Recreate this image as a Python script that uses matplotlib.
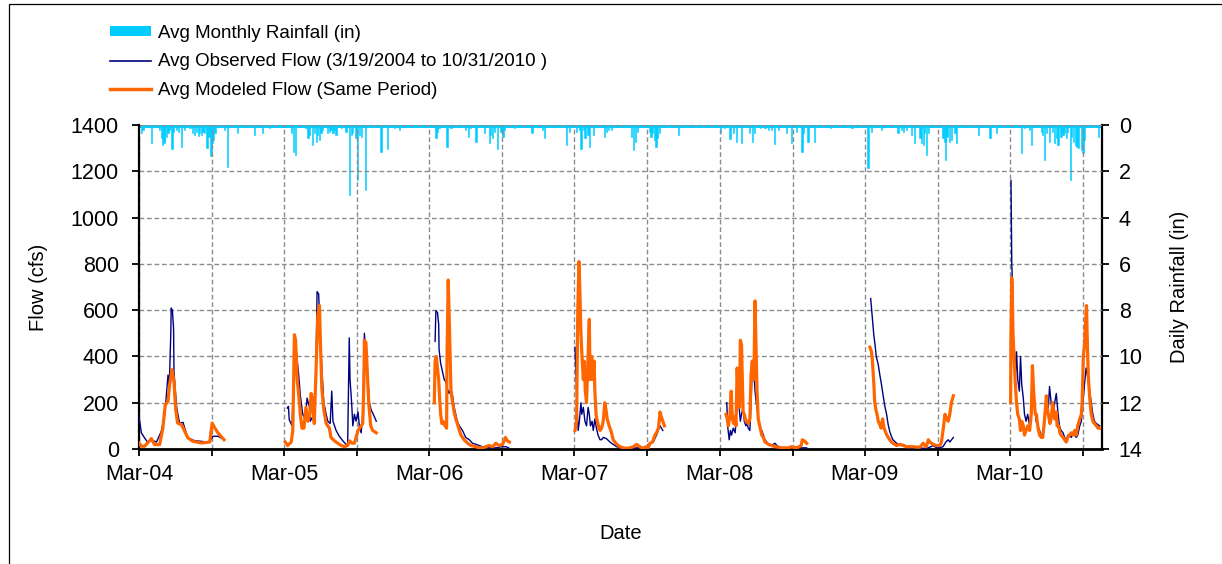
import numpy as np
import pandas as pd
import matplotlib
matplotlib.use("Agg")
import matplotlib.pyplot as plt
import matplotlib.dates as mdates
from matplotlib.lines import Line2D
from matplotlib.patches import Patch, Rectangle

plt.rcParams['font.family'] = ['Liberation Sans', 'DejaVu Sans']

# ---------------- data (day offsets counted from Mar 19 of each season year) ----------------
seasons = [2004, 2005, 2006, 2007, 2008, 2009, 2010]

obs_2004_day = [0, 6, 14, 23, 31, 44, 56, 65, 69, 73, 76, 80, 81, 84, 87, 88, 92, 95, 102, 111, 115, 123, 140, 157, 174, 181, 186, 199, 214]
obs_2004_cfs = [141, 70, 48, 26, 40, 30, 76, 150, 235, 320, 260, 500, 609, 600, 520, 335, 240, 177, 112, 115, 90, 48, 36, 33, 30, 40, 55, 55, 40]
mod_2004_day = [0, 6, 14, 27, 31, 39, 52, 60, 66, 73, 77, 83, 88, 92, 97, 107, 115, 123, 136, 157, 178, 184, 191, 199, 214]
mod_2004_cfs = [26, 12, 12, 36, 45, 19, 19, 90, 190, 206, 278, 343, 292, 177, 112, 105, 76, 48, 33, 26, 30, 112, 90, 69, 40]

obs_2005_day = [8, 11, 13, 20, 24, 28, 32, 36, 41, 47, 53, 58, 64, 66, 72, 76, 80, 83, 87, 91, 95, 100, 106, 110, 116, 120, 123, 131, 139, 148, 156, 160, 164, 166, 170, 173, 177, 181, 186, 190, 194, 198, 202, 207, 211, 215, 219, 227, 232]
obs_2005_cfs = [177, 184, 127, 100, 300, 480, 400, 335, 230, 150, 130, 220, 180, 120, 140, 110, 300, 680, 670, 500, 350, 200, 150, 120, 110, 250, 120, 80, 55, 35, 20, 20, 480, 300, 200, 100, 150, 120, 160, 90, 70, 150, 500, 400, 300, 200, 170, 140, 120]
mod_2005_day = [3, 9, 18, 22, 24, 26, 29, 33, 36, 41, 45, 50, 55, 60, 65, 68, 71, 74, 76, 80, 85, 89, 92, 95, 100, 106, 114, 118, 127, 135, 144, 152, 160, 165, 171, 177, 186, 190, 194, 198, 201, 202, 206, 209, 213, 218, 223, 232]
mod_2005_cfs = [30, 15, 30, 80, 300, 494, 470, 300, 250, 150, 90, 90, 180, 120, 150, 240, 220, 150, 110, 320, 580, 620, 430, 260, 170, 110, 90, 50, 35, 25, 15, 10, 15, 35, 25, 25, 80, 90, 100, 110, 300, 470, 460, 350, 200, 100, 80, 70]

obs_2006_day = [15, 17, 21, 24, 25, 29, 34, 38, 42, 46, 50, 55, 59, 63, 67, 71, 76, 84, 92, 101, 109, 118, 126, 134, 143, 151, 160, 168, 176, 185, 193, 200]
obs_2006_cfs = [465, 598, 590, 540, 430, 370, 330, 300, 290, 260, 240, 260, 230, 180, 150, 120, 100, 80, 50, 40, 25, 20, 15, 10, 10, 5, 5, 5, 8, 10, 10, 5]
mod_2006_day = [13, 15, 18, 21, 24, 27, 29, 32, 35, 40, 44, 45, 48, 50, 53, 55, 59, 63, 67, 71, 76, 80, 88, 97, 105, 118, 126, 134, 143, 151, 160, 168, 176, 185, 192, 197, 202]
mod_2006_cfs = [200, 380, 400, 350, 300, 200, 150, 110, 120, 100, 90, 400, 730, 600, 380, 250, 200, 160, 130, 110, 80, 60, 40, 25, 15, 10, 5, 5, 10, 15, 10, 25, 15, 20, 50, 35, 30]

obs_2007_day = [2, 4, 8, 10, 13, 17, 19, 23, 27, 31, 35, 38, 41, 45, 48, 52, 56, 60, 65, 69, 73, 81, 90, 98, 107, 115, 123, 132, 140, 149, 157, 165, 174, 182, 186, 190, 199, 207, 216, 223]
obs_2007_cfs = [440, 350, 150, 80, 120, 200, 150, 180, 120, 100, 180, 150, 100, 120, 80, 130, 90, 60, 40, 40, 50, 45, 30, 20, 10, 5, 3, 2, 2, 3, 5, 5, 3, 3, 20, 25, 30, 60, 100, 80]
mod_2007_day = [2, 6, 9, 12, 14, 17, 19, 23, 25, 28, 31, 35, 38, 40, 44, 46, 50, 52, 55, 58, 61, 65, 69, 73, 77, 80, 83, 88, 94, 98, 107, 115, 123, 132, 140, 149, 157, 161, 165, 170, 174, 181, 186, 191, 197, 203, 207, 212, 216, 219, 227]
mod_2007_cfs = [80, 120, 600, 810, 700, 500, 420, 300, 380, 250, 200, 400, 560, 300, 400, 300, 380, 250, 150, 120, 100, 80, 90, 120, 200, 170, 130, 100, 70, 40, 20, 10, 5, 3, 5, 10, 20, 15, 10, 5, 3, 10, 5, 25, 30, 60, 70, 90, 160, 140, 100]

obs_2008_day = [18, 20, 24, 27, 30, 34, 39, 42, 45, 49, 52, 55, 59, 62, 66, 69, 72, 76, 79, 82, 86, 89, 92, 96, 99, 102, 106, 114, 123, 131, 139, 144, 148, 156, 165, 173, 181, 190, 198, 207, 215, 219]
obs_2008_cfs = [200, 100, 40, 80, 60, 90, 70, 150, 200, 180, 120, 150, 180, 120, 100, 110, 90, 80, 200, 350, 330, 250, 200, 150, 110, 90, 80, 40, 20, 15, 25, 15, 10, 5, 5, 5, 5, 3, 5, 5, 5, 5]
mod_2008_day = [16, 19, 22, 26, 29, 32, 35, 39, 41, 44, 47, 50, 52, 55, 59, 62, 66, 69, 72, 76, 79, 82, 86, 89, 92, 94, 97, 102, 106, 110, 114, 123, 131, 139, 148, 156, 165, 173, 181, 190, 198, 205, 208, 213, 219]
mod_2008_cfs = [150, 130, 100, 150, 250, 130, 110, 140, 100, 350, 200, 180, 470, 450, 160, 150, 120, 120, 110, 130, 320, 380, 300, 640, 400, 250, 130, 90, 60, 50, 30, 20, 15, 10, 8, 5, 5, 5, 10, 5, 8, 15, 40, 35, 25]

obs_2009_day = [15, 19, 23, 26, 29, 34, 38, 42, 46, 50, 55, 59, 63, 67, 71, 80, 88, 97, 105, 113, 122, 130, 139, 147, 155, 164, 172, 181, 189, 197, 204, 210, 214, 223]
obs_2009_cfs = [650, 570, 490, 450, 400, 365, 320, 280, 235, 190, 150, 105, 75, 55, 40, 25, 15, 20, 10, 5, 5, 5, 5, 3, 3, 8, 15, 5, 5, 10, 30, 40, 30, 50]
mod_2009_day = [13, 17, 19, 23, 25, 28, 31, 34, 38, 41, 45, 48, 51, 55, 59, 63, 67, 71, 80, 88, 97, 105, 113, 122, 130, 139, 147, 151, 155, 160, 164, 172, 181, 189, 193, 197, 202, 206, 210, 214, 218, 223]
mod_2009_cfs = [440, 420, 390, 280, 206, 170, 150, 120, 105, 90, 130, 95, 80, 62, 50, 40, 30, 25, 15, 20, 15, 10, 10, 10, 8, 8, 25, 15, 10, 40, 30, 20, 15, 15, 30, 80, 150, 130, 120, 150, 200, 230]

obs_2010_day = [3, 5, 7, 9, 12, 14, 17, 20, 24, 27, 30, 34, 37, 41, 45, 50, 54, 58, 62, 66, 71, 75, 79, 83, 87, 92, 96, 100, 104, 108, 113, 117, 121, 125, 129, 134, 138, 142, 146, 150, 155, 159, 163, 167, 171, 176, 180, 184, 188, 192, 197, 201, 205, 209, 213, 218, 226]
obs_2010_cfs = [1160, 800, 700, 450, 420, 300, 420, 300, 250, 400, 280, 220, 150, 120, 150, 100, 170, 250, 200, 120, 100, 80, 60, 60, 100, 200, 150, 270, 200, 150, 200, 240, 160, 100, 80, 70, 50, 40, 60, 60, 50, 70, 60, 50, 60, 100, 120, 200, 280, 350, 300, 250, 200, 150, 120, 110, 100]
mod_2010_day = [2, 3, 5, 7, 8, 10, 12, 14, 17, 20, 24, 27, 30, 34, 37, 41, 45, 50, 54, 57, 60, 64, 67, 71, 75, 79, 83, 87, 92, 94, 97, 101, 104, 108, 113, 117, 119, 123, 126, 129, 134, 138, 142, 146, 150, 155, 159, 163, 167, 171, 176, 180, 182, 185, 188, 191, 193, 196, 198, 202, 205, 209, 213, 218, 222, 226]
mod_2010_cfs = [200, 500, 740, 600, 500, 420, 350, 280, 200, 150, 130, 80, 120, 100, 60, 80, 100, 80, 150, 360, 250, 150, 150, 90, 60, 50, 50, 120, 230, 180, 150, 110, 130, 200, 130, 160, 100, 100, 70, 60, 50, 40, 30, 50, 60, 70, 60, 80, 60, 100, 130, 150, 200, 400, 450, 560, 620, 400, 300, 200, 150, 120, 110, 100, 90, 90]

rain_2004_day = [6, 10, 31, 52, 56, 60, 63, 65, 69, 73, 77, 83, 86, 94, 100, 107, 115, 128, 134, 140, 144, 149, 153, 157, 161, 165, 171, 176, 181, 184, 187, 191, 216, 223, 248, 291, 311, 329, 342, 354]
rain_2004_in = [0.36, 0.22, 0.79, 0.22, 0.58, 0.86, 0.79, 0.65, 0.5, 0.36, 0.22, 1.04, 0.29, 0.22, 0.32, 0.96, 0.22, 0.14, 0.36, 0.43, 0.29, 0.46, 0.36, 0.43, 0.29, 0.36, 0.98, 0.5, 1.32, 0.79, 0.65, 0.36, 0.22, 1.8, 0.36, 0.43, 0.36, 0.14, 0.07, 0.07]
rain_2005_day = [18, 24, 28, 55, 60, 64, 72, 76, 81, 85, 89, 93, 97, 110, 114, 118, 123, 127, 131, 144, 156, 165, 169, 173, 181, 184, 190, 194, 204, 244, 260, 278, 291]
rain_2005_in = [0.36, 1.15, 1.3, 0.14, 0.58, 0.43, 0.86, 0.36, 0.72, 0.43, 0.65, 0.36, 0.22, 0.36, 0.29, 0.22, 0.36, 0.22, 0.43, 0.14, 0.29, 3.02, 0.43, 0.36, 0.58, 2.38, 0.43, 0.5, 2.81, 1.15, 1.04, 0.14, 0.22]
rain_2006_day = [17, 21, 25, 45, 55, 92, 99, 105, 118, 139, 151, 155, 160, 164, 172, 181, 186, 190, 214, 259, 286, 291, 323, 346, 353]
rain_2006_in = [0.58, 0.29, 0.14, 0.94, 0.14, 0.22, 0.5, 0.14, 0.72, 0.36, 0.79, 0.43, 0.58, 0.29, 1.04, 0.29, 0.5, 0.22, 0.14, 0.36, 0.22, 0.58, 0.07, 0.86, 0.29]
rain_2007_day = [6, 13, 17, 23, 27, 35, 39, 48, 77, 81, 86, 94, 144, 149, 154, 160, 189, 193, 197, 202, 206, 210, 214, 262, 333]
rain_2007_in = [0.29, 0.22, 1.04, 0.22, 0.58, 0.43, 0.94, 0.43, 0.5, 0.29, 0.22, 0.22, 0.5, 1.08, 0.72, 0.29, 0.29, 0.5, 0.36, 0.65, 0.94, 0.58, 0.36, 0.43, 0.07]
rain_2008_day = [3, 13, 26, 34, 43, 55, 75, 83, 87, 102, 114, 123, 131, 138, 148, 169, 181, 194, 207, 211, 222, 239, 278, 291, 333]
rain_2008_in = [0.36, 0.14, 0.6, 0.36, 0.72, 0.79, 0.36, 0.72, 0.36, 0.14, 0.14, 0.22, 0.22, 0.84, 0.22, 0.36, 0.79, 0.29, 1.18, 0.36, 0.72, 0.75, 0.14, 0.07, 0.14]
rain_2009_day = [8, 17, 42, 84, 92, 97, 105, 118, 126, 139, 143, 147, 151, 155, 160, 197, 202, 204, 207, 213, 218, 227, 231, 286, 315, 332]
rain_2009_in = [1.84, 0.29, 0.22, 0.36, 0.22, 0.29, 0.22, 0.43, 0.79, 0.58, 0.79, 0.86, 0.36, 1.3, 0.36, 0.58, 0.72, 1.51, 0.5, 0.72, 0.65, 0.36, 0.79, 0.43, 0.58, 0.36]
rain_2010_day = [29, 37, 50, 55, 79, 83, 87, 92, 100, 108, 113, 117, 121, 129, 134, 138, 142, 146, 152, 156, 160, 165, 169, 173, 180, 184, 188, 223]
rain_2010_in = [1.22, 0.14, 0.22, 0.86, 0.29, 0.43, 1.51, 0.36, 0.72, 0.29, 0.79, 0.58, 0.86, 0.5, 0.43, 0.36, 0.58, 0.29, 2.38, 0.5, 0.72, 0.86, 0.94, 1.01, 1.08, 1.22, 0.65, 0.5]

flow_ticks = [0, 200, 400, 600, 800, 1000, 1200, 1400]
rain_ticks = [0, 2, 4, 6, 8, 10, 12, 14]
x_start, x_end = "2004-03-19", "2010-11-06"

legend_labels = ["Avg Monthly Rainfall (in)",
                 "Avg Observed Flow (3/19/2004 to 10/31/2010 )",
                 "Avg Modeled Flow (Same Period)"]

C_OBS = "#000080"
C_MOD = "#FF6600"
C_RAIN = "#00CCFF"

g = globals()


def to_dates(year, days):
    return pd.Timestamp(f"{year}-03-19") + pd.to_timedelta(np.asarray(days), unit="D")


def series(prefix, unit):
    xs, ys = [], []
    for yr in seasons:
        d = to_dates(yr, g[f"{prefix}_{yr}_day"])
        xs.extend(list(d))
        ys.extend(list(g[f"{prefix}_{yr}_{unit}"]))
        xs.append(d[-1] + pd.Timedelta(days=1))
        ys.append(np.nan)
    return pd.to_datetime(xs), np.array(ys, dtype=float)


obs_x, obs_y = series("obs", "cfs")
mod_x, mod_y = series("mod", "cfs")
rain_x, rain_y = [], []
for yr in seasons:
    rain_x.extend(list(to_dates(yr, g[f"rain_{yr}_day"])))
    rain_y.extend(g[f"rain_{yr}_in"])
rain_x = pd.to_datetime(rain_x)

# ---------------- figure ----------------
W, H = 1222, 564
fig = plt.figure(figsize=(W / 100, H / 100), dpi=100)
ax = fig.add_axes([139 / W, 1 - 449 / H, (1102 - 139) / W, (449 - 125) / H])
ax2 = ax.twinx()

ax.set_zorder(2)
ax2.set_zorder(1)
ax.patch.set_visible(False)

grid_kw = dict(color="#8C8C8C", linewidth=1.0, linestyle=(0, (3.4, 2.0)))

# rainfall bars (hanging from top)
ax2.bar(rain_x, rain_y, width=3.2, color=C_RAIN, edgecolor=C_RAIN, linewidth=0.4, align="center")
ax2.axhline(0.05, color=C_RAIN, linewidth=2.2, zorder=0)
ax2.set_ylim(14, 0)
ax2.set_yticks(rain_ticks)

# flows
ax.plot(obs_x, obs_y, color=C_OBS, linewidth=1.0, zorder=3)
ax.plot(mod_x, mod_y, color=C_MOD, linewidth=2.3, zorder=4, solid_joinstyle="round")

ax.set_ylim(0, 1400)
ax.set_yticks(flow_ticks)
ax.set_xlim(pd.Timestamp(x_start), pd.Timestamp(x_end))

ax.xaxis.set_major_locator(mdates.MonthLocator(bymonth=[3], bymonthday=19))
ax.xaxis.set_minor_locator(mdates.MonthLocator(bymonth=[9], bymonthday=19))
ax.xaxis.set_major_formatter(mdates.DateFormatter("%b-%y"))

ax.grid(True, which="major", axis="y", **grid_kw)
ax.grid(True, which="both", axis="x", **grid_kw)

for a in (ax, ax2):
    a.spines["top"].set_visible(False)
ax.spines["left"].set_linewidth(1.6)
ax.spines["bottom"].set_linewidth(2.0)
ax.spines["right"].set_visible(False)
ax2.spines["left"].set_visible(False)
ax2.spines["bottom"].set_visible(False)
ax2.spines["right"].set_linewidth(1.6)

ax.tick_params(axis="y", which="major", length=5, width=1.3, labelsize=15.5, pad=9.5)
ax.tick_params(axis="x", which="both", length=5, width=1.3, labelsize=15.5, pad=6, direction="out")
ax2.tick_params(axis="y", length=5, width=1.3, labelsize=15.5, pad=7)

ax.set_ylabel("Flow (cfs)", fontsize=14.5, labelpad=16)
ax2.set_ylabel("Daily Rainfall (in)", fontsize=14.5, labelpad=20)
ax.set_xlabel("Date", fontsize=14.5, labelpad=28)

handles = [Patch(facecolor=C_RAIN, edgecolor="none"),
           Line2D([], [], color=C_OBS, linewidth=1.2),
           Line2D([], [], color=C_MOD, linewidth=2.5)]
fig.legend(handles, legend_labels, loc="upper left",
           bbox_to_anchor=(97 / W, 1 - 12 / H), frameon=False, fontsize=13.5,
           handlelength=2.2, handleheight=0.45, handletextpad=0.35, labelspacing=0.6,
           borderpad=0.2)

fig.add_artist(Rectangle((9 / W, -0.05), 1.2, 1.05 - 4 / H, transform=fig.transFigure,
                         fill=False, edgecolor="black", linewidth=0.9))

fig.savefig("out.png", dpi=100)
